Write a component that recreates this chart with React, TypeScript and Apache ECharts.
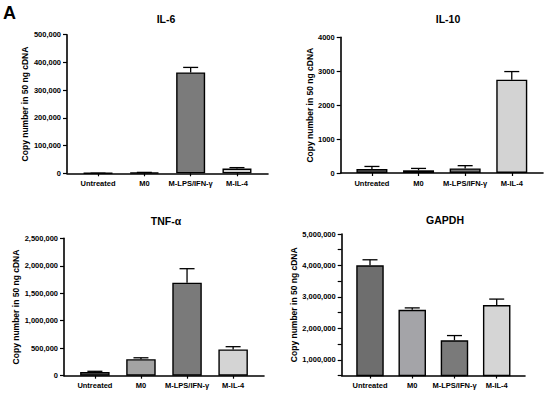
import React, { useEffect, useRef } from "react";
import * as echarts from "echarts";

const categories = ["Untreated", "M0", "M-LPS/IFN-γ", "M-IL-4"];

const il6Values = [300, 2500, 364000, 17000];
const il6Errors = [100, 800, 18000, 3500];

const il10Values = [118, 80, 136, 2750];
const il10Errors = [75, 55, 80, 240];

const tnfValues = [67000, 300000, 1692000, 478000];
const tnfErrors = [13000, 26000, 255000, 50000];

const gapdhValues = [4005000, 2590000, 1620000, 2740000];
const gapdhErrors = [175000, 60000, 150000, 190000];

const il6Colors = ["#707070", "#707070", "#7b7b7b", "#d2d2d2"];
const il10Colors = ["#727272", "#747474", "#777777", "#d3d3d3"];
const tnfColors = ["#6f6f6f", "#a3a3a3", "#7a7a7a", "#d4d4d4"];
const gapdhColors = ["#6e6e6e", "#a4a4a8", "#7a7a7a", "#d5d5d5"];

const FONT = "Liberation Sans, Arial, sans-serif";

type Panel = {
  title: string;
  values: number[];
  errors: number[];
  colors: string[];
  grid: { left: number; right: number; top: number; bottom: number };
  yMin: number;
  yMax: number;
  yInterval: number;
  yFormatter: (v: number) => string;
  nameGap: number;
  barWidth: number;
  titleX: number;
  titleY: number;
};

const commas = (v: number) => v.toLocaleString("en-US");

const panels: Panel[] = [
  {
    title: "IL-6",
    values: il6Values,
    errors: il6Errors,
    colors: il6Colors,
    grid: { left: 67, right: 282, top: 34.7, bottom: 219.7 },
    yMin: 0,
    yMax: 500000,
    yInterval: 100000,
    yFormatter: commas,
    nameGap: 30,
    barWidth: 29,
    titleX: 166,
    titleY: 19,
  },
  {
    title: "IL-10",
    values: il10Values,
    errors: il10Errors,
    colors: il10Colors,
    grid: { left: 340.7, right: 7, top: 37.3, bottom: 220 },
    yMin: 0,
    yMax: 4000,
    yInterval: 1000,
    yFormatter: (v: number) => String(v),
    nameGap: 13,
    barWidth: 31,
    titleX: 448,
    titleY: 19,
  },
  {
    title: "TNF-α",
    values: tnfValues,
    errors: tnfErrors,
    colors: tnfColors,
    grid: { left: 64, right: 286, top: 238.3, bottom: 17.3 },
    yMin: 0,
    yMax: 2500000,
    yInterval: 500000,
    yFormatter: commas,
    nameGap: 32,
    barWidth: 29.5,
    titleX: 166,
    titleY: 220.5,
  },
  {
    title: "GAPDH",
    values: gapdhValues,
    errors: gapdhErrors,
    colors: gapdhColors,
    grid: { left: 341.7, right: 25, top: 234, bottom: 17.5 },
    yMin: 500000,
    yMax: 5000000,
    yInterval: 500000,
    yFormatter: (v: number) => (v % 1000000 === 0 ? commas(v) : ""),
    nameGap: 36,
    barWidth: 27.5,
    titleX: 445,
    titleY: 219.5,
  },
];

export default function App() {
  const ref = useRef<HTMLDivElement>(null);

  useEffect(() => {
    if (!ref.current) return;
    const chart = echarts.init(ref.current, undefined, { renderer: "svg" });

    const grids: any[] = [];
    const xAxes: any[] = [];
    const yAxes: any[] = [];
    const series: any[] = [];
    const graphics: any[] = [
      {
        type: "text",
        x: 3,
        y: 4,
        style: {
          text: "A",
          font: `bold 18px ${FONT}`,
          fill: "#000",
        },
      },
    ];

    panels.forEach((p, i) => {
      grids.push({ ...p.grid, containLabel: false });
      xAxes.push({
        type: "value",
        gridIndex: i,
        min: -0.67,
        max: 3.67,
        axisLine: { onZero: false, lineStyle: { color: "#000", width: 1.6 } },
        axisTick: {
          show: true,
          customValues: [0, 1, 2, 3],
          length: 3,
          lineStyle: { color: "#000", width: 1.2 },
        },
        axisLabel: {
          customValues: [0, 1, 2, 3],
          formatter: (v: number) => categories[Math.round(v)] ?? "",
          fontFamily: FONT,
          fontWeight: "bold",
          fontSize: 7.5,
          color: "#000",
          margin: 6,
        },
        splitLine: { show: false },
      });
      yAxes.push({
        type: "value",
        gridIndex: i,
        min: p.yMin,
        max: p.yMax,
        interval: p.yInterval,
        name: "Copy number in 50 ng cDNA",
        nameLocation: "middle",
        nameRotate: 90,
        nameGap: p.nameGap,
        nameTextStyle: {
          fontFamily: FONT,
          fontWeight: "bold",
          fontSize: 8.5,
          color: "#000",
        },
        axisLine: { show: true, onZero: false, lineStyle: { color: "#000", width: 1.6 } },
        axisTick: { show: true, length: 4, lineStyle: { color: "#000", width: 1.2 } },
        axisLabel: {
          formatter: p.yFormatter,
          fontFamily: FONT,
          fontWeight: "bold",
          fontSize: 7.5,
          color: "#000",
          margin: 6,
        },
        splitLine: { show: false },
      });
      series.push({
        type: "bar",
        xAxisIndex: i,
        yAxisIndex: i,
        barWidth: p.barWidth,
        clip: true,
        data: p.values.map((v, k) => ({
          value: [k, v],
          itemStyle: { color: p.colors[k], borderColor: "#000", borderWidth: 1.4 },
        })),
        z: 2,
      });
      series.push({
        type: "custom",
        xAxisIndex: i,
        yAxisIndex: i,
        z: 3,
        data: p.values.map((v, k) => [k, v, p.errors[k]]),
        renderItem: (params: any, api: any) => {
          const x = api.value(0);
          const y = api.value(1);
          const e = api.value(2);
          const base = api.coord([x, y]);
          const top = api.coord([x, y + e]);
          const cw = 7.5;
          return {
            type: "group",
            children: [
              {
                type: "line",
                shape: { x1: base[0], y1: base[1], x2: top[0], y2: top[1] },
                style: { stroke: "#000", lineWidth: 1.3 },
              },
              {
                type: "line",
                shape: { x1: top[0] - cw, y1: top[1], x2: top[0] + cw, y2: top[1] },
                style: { stroke: "#000", lineWidth: 1.3 },
              },
            ],
          };
        },
      });
      graphics.push({
        type: "text",
        x: p.titleX,
        y: p.titleY,
        style: {
          text: p.title,
          font: `bold 10.5px ${FONT}`,
          fill: "#000",
          textAlign: "center",
          textVerticalAlign: "middle",
        },
      });
    });

    chart.setOption({
      animation: false,
      backgroundColor: "#ffffff",
      grid: grids,
      xAxis: xAxes,
      yAxis: yAxes,
      series,
      graphic: graphics,
    });

    return () => chart.dispose();
  }, []);

  return (
    <div
      ref={ref}
      style={{ width: 550, height: 393, position: "absolute", left: 0, top: 0 }}
    />
  );
}
